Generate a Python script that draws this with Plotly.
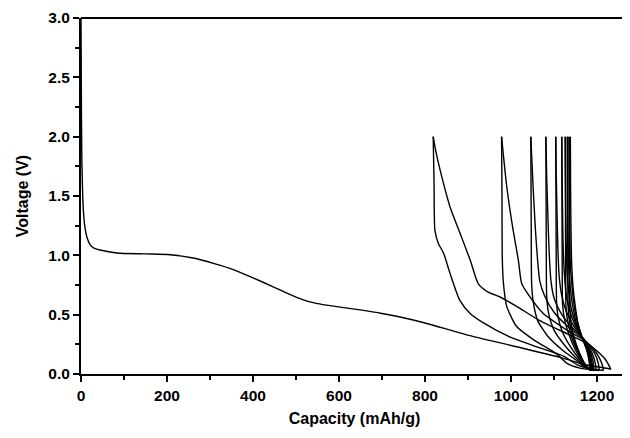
import plotly.graph_objects as go

# ---- data (capacity mAh/g, voltage V) ----
d1_cap = [0, 1, 2, 4, 6, 9, 14, 21, 30, 44, 83, 150, 207, 261, 310, 354, 400, 447, 480, 517, 545, 571, 649, 700, 742, 800, 897, 1013, 1114, 1176, 1222, 1232]
d1_v = [3.0, 2.2, 1.8, 1.5, 1.35, 1.24, 1.15, 1.09, 1.06, 1.045, 1.02, 1.012, 1.005, 0.977, 0.93, 0.88, 0.81, 0.735, 0.68, 0.625, 0.597, 0.58, 0.54, 0.51, 0.48, 0.43, 0.33, 0.23, 0.14, 0.076, 0.048, 0.04]

c1_cap = [1232, 1230, 1220, 1207, 1176, 1130, 1067, 1013, 974, 947, 924, 905, 881, 858, 835, 825, 819]
c1_v = [0.04, 0.056, 0.12, 0.17, 0.26, 0.34, 0.45, 0.57, 0.65, 0.69, 0.76, 0.96, 1.19, 1.41, 1.72, 1.88, 2.0]

d2_cap = [819, 821, 823, 831, 843, 858, 881, 905, 936, 998, 1067, 1122, 1153, 1176, 1215]
d2_v = [2.0, 1.6, 1.21, 1.10, 1.02, 0.85, 0.62, 0.51, 0.43, 0.31, 0.22, 0.15, 0.08, 0.05, 0.03]

c2_cap = [1215, 1212, 1200, 1176, 1130, 1075, 1044, 1025, 1017, 1005, 990, 978]
c2_v = [0.03, 0.08, 0.17, 0.27, 0.37, 0.51, 0.65, 0.76, 0.96, 1.21, 1.58, 2.0]

d3_cap = [978, 979, 979.5, 982, 990, 1013, 1052, 1106, 1130, 1160, 1205]
d3_v = [2.0, 1.5, 1.0, 0.78, 0.57, 0.40, 0.29, 0.17, 0.09, 0.05, 0.03]

c3_cap = [1205, 1203, 1195, 1170, 1135, 1100, 1078, 1067, 1062, 1057, 1051, 1046]
c3_v = [0.03, 0.09, 0.17, 0.29, 0.39, 0.52, 0.66, 0.78, 0.95, 1.2, 1.6, 2.0]

d4_cap = [1046, 1047, 1048, 1052, 1062, 1085, 1120, 1150, 1170, 1198]
d4_v = [2.0, 1.2, 0.75, 0.6, 0.45, 0.32, 0.2, 0.12, 0.06, 0.03]

c4_cap = [1198, 1196, 1188, 1168, 1140, 1115, 1100, 1093, 1089, 1086, 1083, 1081]
c4_v = [0.03, 0.09, 0.18, 0.3, 0.4, 0.52, 0.64, 0.78, 1.0, 1.3, 1.65, 2.0]

d5_cap = [1081, 1082, 1083, 1088, 1100, 1125, 1150, 1170, 1193]
d5_v = [2.0, 1.0, 0.65, 0.5, 0.37, 0.24, 0.14, 0.07, 0.03]

c5_cap = [1193, 1191, 1184, 1166, 1145, 1128, 1118, 1112, 1109, 1107, 1105, 1104]
c5_v = [0.03, 0.1, 0.19, 0.31, 0.41, 0.53, 0.66, 0.82, 1.05, 1.35, 1.7, 2.0]

d6_cap = [1104, 1105, 1106, 1110, 1120, 1140, 1160, 1175, 1190]
d6_v = [2.0, 1.0, 0.6, 0.47, 0.35, 0.22, 0.12, 0.06, 0.03]

c6_cap = [1190, 1188, 1181, 1165, 1148, 1136, 1128, 1124, 1121, 1119.5, 1118.5, 1118]
c6_v = [0.03, 0.1, 0.2, 0.31, 0.42, 0.54, 0.68, 0.85, 1.1, 1.45, 1.75, 2.0]

d7_cap = [1118, 1119, 1120, 1125, 1135, 1150, 1165, 1178, 1188]
d7_v = [2.0, 0.9, 0.58, 0.45, 0.33, 0.2, 0.11, 0.05, 0.03]

c7_cap = [1188, 1186, 1179, 1165, 1150, 1140, 1134, 1130, 1128, 1127, 1126]
c7_v = [0.03, 0.1, 0.2, 0.31, 0.43, 0.55, 0.7, 0.88, 1.15, 1.5, 2.0]

d8_cap = [1126, 1127, 1128, 1133, 1142, 1155, 1168, 1178, 1186]
d8_v = [2.0, 0.9, 0.55, 0.42, 0.3, 0.19, 0.1, 0.05, 0.03]

c8_cap = [1186, 1184, 1178, 1165, 1152, 1144, 1138, 1134, 1132.5, 1131.5, 1131]
c8_v = [0.03, 0.1, 0.2, 0.31, 0.43, 0.56, 0.72, 0.9, 1.2, 1.55, 2.0]

d9_cap = [1131, 1132, 1133, 1138, 1146, 1158, 1170, 1185]
d9_v = [2.0, 0.9, 0.55, 0.4, 0.29, 0.18, 0.09, 0.03]

c9_cap = [1185, 1183, 1177, 1165, 1154, 1147, 1142, 1138, 1136.5, 1135.5, 1135]
c9_v = [0.03, 0.1, 0.2, 0.31, 0.44, 0.57, 0.73, 0.92, 1.2, 1.55, 2.0]

d10_cap = [1135, 1136, 1137, 1141, 1149, 1160, 1171, 1184]
d10_v = [2.0, 0.9, 0.55, 0.4, 0.28, 0.17, 0.09, 0.03]

c10_cap = [1184, 1182, 1176, 1165, 1155, 1149, 1144, 1141, 1139.5, 1138.5, 1138]
c10_v = [0.03, 0.1, 0.2, 0.31, 0.44, 0.58, 0.74, 0.93, 1.2, 1.55, 2.0]

curves = [
    (d1_cap, d1_v), (c1_cap, c1_v), (d2_cap, d2_v), (c2_cap, c2_v),
    (d3_cap, d3_v), (c3_cap, c3_v), (d4_cap, d4_v), (c4_cap, c4_v),
    (d5_cap, d5_v), (c5_cap, c5_v), (d6_cap, d6_v), (c6_cap, c6_v),
    (d7_cap, d7_v), (c7_cap, c7_v), (d8_cap, d8_v), (c8_cap, c8_v),
    (d9_cap, d9_v), (c9_cap, c9_v), (d10_cap, d10_v), (c10_cap, c10_v),
]

x_ticks = [0, 200, 400, 600, 800, 1000, 1200]
y_ticks = [0.0, 0.5, 1.0, 1.5, 2.0, 2.5, 3.0]

fig = go.Figure()
for cx, cy in curves:
    fig.add_trace(go.Scatter(x=cx, y=cy, mode="lines",
                             line=dict(color="black", width=1.4, shape="spline", smoothing=0.6),
                             showlegend=False, hoverinfo="skip"))

tickfont = dict(family="Liberation Sans, Arial, sans-serif", size=15.5, color="black", weight="bold")
titlefont = dict(family="Liberation Sans, Arial, sans-serif", size=16, color="black", weight="bold")

# page body has an 8px margin, so the figure is 622x430 and offset by 8px
fig.update_layout(
    width=622, height=430,
    margin=dict(l=73, r=2, t=10, b=64, autoexpand=False),
    paper_bgcolor="white", plot_bgcolor="white",
    xaxis=dict(range=[0, 1272], tickvals=x_ticks, ticktext=[str(v) for v in x_ticks],
               automargin=False,
               showgrid=False, zeroline=False, showline=True, linecolor="black", linewidth=2,
               ticks="outside", ticklen=6, tickwidth=2, tickcolor="black",
               minor=dict(dtick=100, tick0=0, ticks="outside", ticklen=4, tickwidth=1.5, tickcolor="black"),
               tickfont=tickfont,
               title=dict(text="Capacity (mAh/g)", font=titlefont, standoff=10)),
    yaxis=dict(range=[0, 3.0], tickvals=y_ticks, ticktext=["%.1f" % v for v in y_ticks],
               automargin=False,
               showgrid=False, zeroline=False, showline=True, linecolor="black", linewidth=2,
               ticks="outside", ticklen=6, tickwidth=2, tickcolor="black",
               minor=dict(dtick=0.25, tick0=0, ticks="outside", ticklen=4, tickwidth=1.5, tickcolor="black"),
               tickfont=tickfont,
               title=dict(text="Voltage (V)", font=titlefont, standoff=16)),
    shapes=[dict(type="line", xref="paper", yref="paper", x0=0, x1=1, y0=1, y1=1,
                 line=dict(color="black", width=2))],
)

fig.write_html("out.html")
